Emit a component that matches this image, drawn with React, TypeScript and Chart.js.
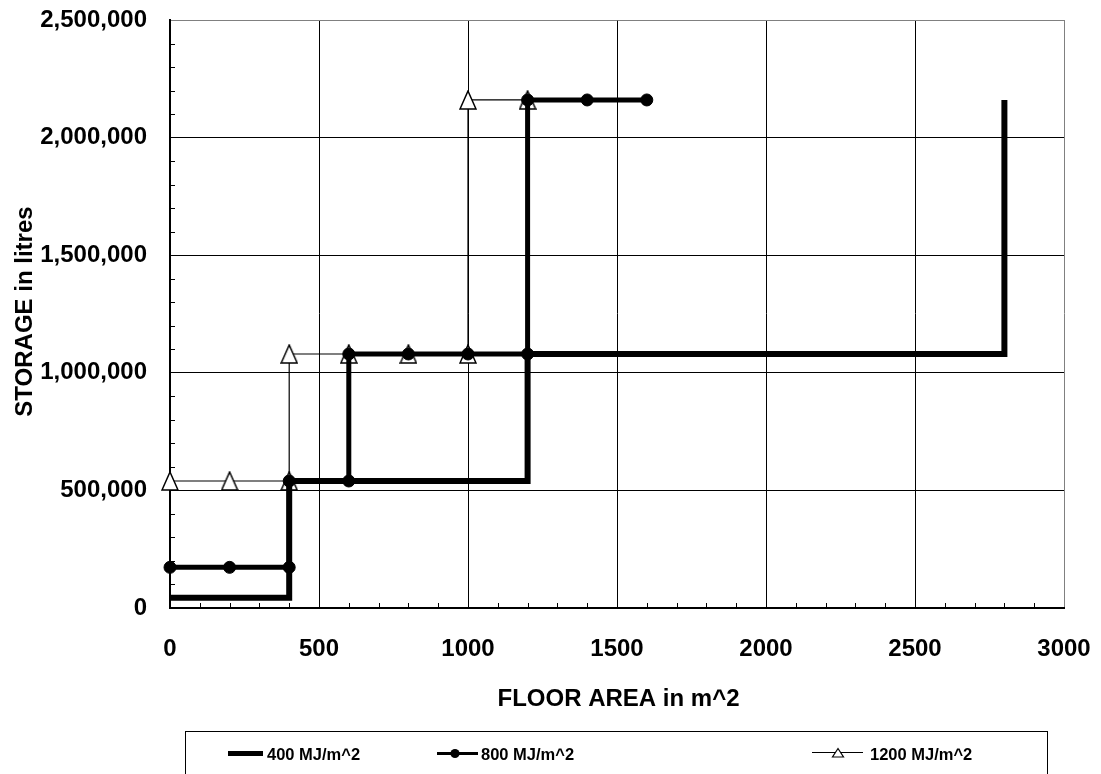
import React, { useEffect, useRef } from "react";
import { Chart, registerables } from "chart.js";

Chart.register(...registerables);

// ---- Data ----
const seriesLabels = ["400 MJ/m^2", "800 MJ/m^2", "1200 MJ/m^2"];

const floorArea400 = [0, 400, 400, 1200, 1200, 2800, 2800];
const storage400 = [43200, 43200, 540000, 540000, 1080000, 1080000, 2160000];

const floorArea800 = [0, 200, 400, 400, 600, 600, 800, 1000, 1200, 1200, 1400, 1600];
const storage800 = [172800, 172800, 172800, 540000, 540000, 1080000, 1080000, 1080000, 1080000, 2160000, 2160000, 2160000];

const floorArea1200 = [0, 200, 400, 400, 600, 800, 1000, 1000, 1200];
const storage1200 = [540000, 540000, 540000, 1080000, 1080000, 1080000, 1080000, 2160000, 2160000];

const xTitle = "FLOOR AREA in m^2";
const yTitle = "STORAGE in litres";
const xMin = 0, xMax = 3000, xStep = 500, xMinor = 100;
const yMin = 0, yMax = 2500000, yStep = 500000, yMinor = 100000;

const FONT = "'Liberation Sans', Arial, sans-serif";

function zip(xs: number[], ys: number[]) {
  return xs.map((x, i) => ({ x, y: ys[i] }));
}

function makeTriangle(): HTMLCanvasElement {
  const c = document.createElement("canvas");
  c.width = 18;
  c.height = 20;
  const g = c.getContext("2d")!;
  g.beginPath();
  g.moveTo(9, 1);
  g.lineTo(17, 19);
  g.lineTo(1, 19);
  g.closePath();
  g.fillStyle = "#fff";
  g.fill();
  g.lineWidth = 1.5;
  g.strokeStyle = "#000";
  g.lineJoin = "miter";
  g.stroke();
  return c;
}

const extrasPlugin = {
  id: "extras",
  beforeDatasetsDraw(chart: any) {
    const { ctx, chartArea, scales } = chart;
    const xs = scales.x, ys = scales.y;
    ctx.save();
    ctx.strokeStyle = "#000";
    ctx.lineWidth = 1;
    for (let v = yMin + yMinor; v < yMax; v += yMinor) {
      if (v % yStep === 0) continue;
      const py = Math.round(ys.getPixelForValue(v)) + 0.5;
      ctx.beginPath();
      ctx.moveTo(chartArea.left, py);
      ctx.lineTo(chartArea.left + 5, py);
      ctx.stroke();
    }
    for (let v = xMin + xMinor; v < xMax; v += xMinor) {
      if (v % xStep === 0) continue;
      const px = Math.round(xs.getPixelForValue(v)) + 0.5;
      ctx.beginPath();
      ctx.moveTo(px, chartArea.bottom);
      ctx.lineTo(px, chartArea.bottom - 5);
      ctx.stroke();
    }
    ctx.restore();
  },
  afterDraw(chart: any) {
    const { ctx } = chart;
    ctx.save();
    ctx.fillStyle = "#000";
    // axis titles
    ctx.font = `bold 24px ${FONT}`;
    ctx.textAlign = "center";
    ctx.textBaseline = "alphabetic";
    ctx.fillText(xTitle, 618.5, 706);
    ctx.save();
    ctx.translate(32, 311.5);
    ctx.rotate(-Math.PI / 2);
    ctx.fillText(yTitle, 0, 0);
    ctx.restore();

    // legend box
    ctx.strokeStyle = "#000";
    ctx.lineWidth = 1;
    ctx.strokeRect(185.5, 731.5, 862, 80);

    ctx.font = `bold 16.5px ${FONT}`;
    ctx.textAlign = "left";
    ctx.textBaseline = "alphabetic";
    const ty = 759.5;
    // item 1
    ctx.lineWidth = 5;
    ctx.lineCap = "butt";
    ctx.beginPath();
    ctx.moveTo(228, 753.5);
    ctx.lineTo(263, 753.5);
    ctx.stroke();
    ctx.fillText(seriesLabels[0], 267, ty);
    // item 2
    ctx.lineWidth = 3;
    ctx.beginPath();
    ctx.moveTo(437, 753.5);
    ctx.lineTo(478, 753.5);
    ctx.stroke();
    ctx.beginPath();
    ctx.arc(455, 753.5, 4.6, 0, Math.PI * 2);
    ctx.fill();
    ctx.fillText(seriesLabels[1], 481, ty);
    // item 3
    ctx.lineWidth = 1;
    ctx.beginPath();
    ctx.moveTo(812, 752.5);
    ctx.lineTo(863, 752.5);
    ctx.stroke();
    ctx.beginPath();
    ctx.moveTo(838, 748.5);
    ctx.lineTo(843.5, 757);
    ctx.lineTo(832.5, 757);
    ctx.closePath();
    ctx.fillStyle = "#fff";
    ctx.fill();
    ctx.lineWidth = 1.2;
    ctx.stroke();
    ctx.fillStyle = "#000";
    ctx.fillText(seriesLabels[2], 870, ty);
    ctx.restore();
  },
};

export default function App() {
  const ref = useRef<HTMLCanvasElement | null>(null);

  useEffect(() => {
    if (!ref.current) return;
    const tri = makeTriangle();
    const tickFont = { family: FONT, size: 24, weight: "bold" as const };
    const chart = new Chart(ref.current, {
      type: "scatter",
      data: {
        datasets: [
          {
            label: seriesLabels[0],
            data: zip(floorArea400, storage400),
            showLine: true,
            borderColor: "#000",
            borderWidth: 6,
            borderJoinStyle: "miter",
            borderCapStyle: "butt",
            pointRadius: 0,
            pointHoverRadius: 0,
            tension: 0,
            clip: false,
            order: 1,
          },
          {
            label: seriesLabels[1],
            data: zip(floorArea800, storage800),
            showLine: true,
            borderColor: "#000",
            borderWidth: 5,
            borderJoinStyle: "miter",
            borderCapStyle: "butt",
            pointStyle: "circle",
            pointRadius: 6,
            pointBackgroundColor: "#000",
            pointBorderColor: "#000",
            pointBorderWidth: 1,
            tension: 0,
            clip: false,
            order: 0,
          },
          {
            label: seriesLabels[2],
            data: zip(floorArea1200, storage1200),
            showLine: true,
            borderColor: "#000",
            borderWidth: 1.2,
            pointStyle: tri as any,
            pointRadius: 9,
            tension: 0,
            clip: false,
            order: 2,
          },
        ] as any,
      },
      options: {
        animation: false,
        responsive: false,
        events: [],
        layout: { padding: { left: 0, top: 20, right: 37, bottom: 0 } },
        plugins: { legend: { display: false }, tooltip: { enabled: false } },
        scales: {
          x: {
            type: "linear",
            min: xMin,
            max: xMax,
            afterFit: (s: any) => {
              s.height = 166;
              s.paddingLeft = 0;
              s.paddingRight = 0;
              s.paddingTop = 0;
              s.paddingBottom = 0;
            },
            ticks: {
              stepSize: xStep,
              autoSkip: false,
              maxRotation: 0,
              padding: 27,
              color: "#000",
              font: tickFont,
              callback: (v: any) => String(v),
            },
            grid: {
              drawTicks: false,
              lineWidth: 1,
              color: (c: any) => (c.tick && c.tick.value === xMax ? "#808080" : "#000"),
            },
            border: { display: true, color: "#000", width: 2 },
          },
          y: {
            type: "linear",
            min: yMin,
            max: yMax,
            afterFit: (s: any) => {
              s.width = 170;
              s.paddingLeft = 0;
              s.paddingRight = 0;
              s.paddingTop = 0;
              s.paddingBottom = 0;
            },
            ticks: {
              stepSize: yStep,
              padding: 23,
              color: "#000",
              font: tickFont,
              callback: (v: any) => Number(v).toLocaleString("en-US"),
            },
            grid: {
              drawTicks: false,
              lineWidth: 1,
              color: (c: any) => (c.tick && c.tick.value === yMax ? "#808080" : "#000"),
            },
            border: { display: true, color: "#000", width: 2 },
          },
        },
      } as any,
      plugins: [extrasPlugin],
    });
    return () => chart.destroy();
  }, []);

  return (
    <div style={{ position: "fixed", left: 0, top: 0, width: 1101, height: 774, background: "#fff" }}>
      <canvas ref={ref} width={1101} height={774} style={{ display: "block" }} />
    </div>
  );
}
